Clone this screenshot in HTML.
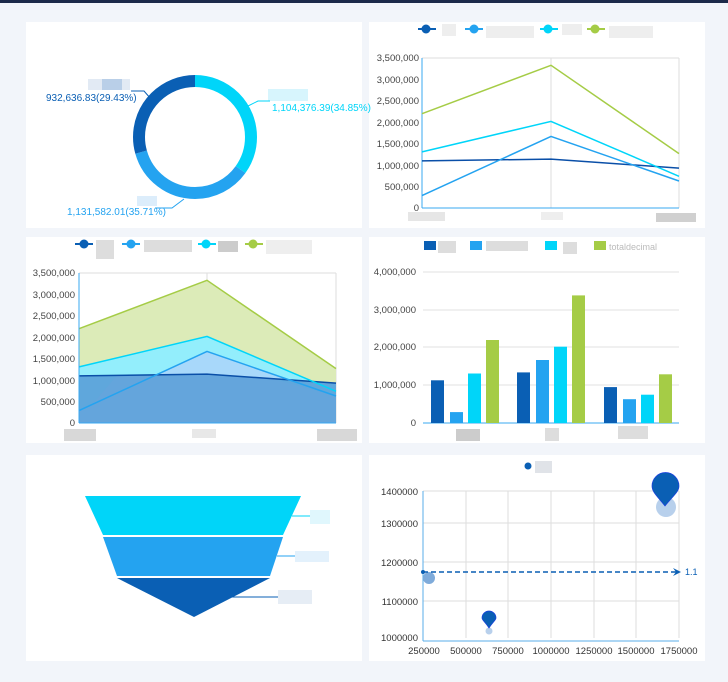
<!DOCTYPE html><html><head><style>body{margin:0;background:#f2f5fa;width:728px;height:682px;overflow:hidden;font-family:"Liberation Sans",sans-serif}svg{display:block}</style></head><body>
<svg width="728" height="682" font-family="Liberation Sans, sans-serif">
<rect x="0" y="0" width="728" height="3" fill="#1c2a4a"/>
<g fill="#fff"><rect x="26" y="22" width="336" height="206"/><rect x="369" y="22" width="336" height="206"/><rect x="26" y="237" width="336" height="206"/><rect x="369" y="237" width="336" height="206"/><rect x="26" y="455" width="336" height="206"/><rect x="369" y="455" width="336" height="206"/></g>
<!-- donut -->
<g transform="rotate(-90 195 137)" fill="none" stroke-width="12">
<circle cx="195" cy="137" r="56" stroke="#00d5f9" stroke-dasharray="122.6 400"/>
<circle cx="195" cy="137" r="56" stroke="#24a3f0" stroke-dasharray="0 122.6 125.7 400"/>
<circle cx="195" cy="137" r="56" stroke="#0a5fb4" stroke-dasharray="0 248.3 103.6 400"/>
</g>
<g font-size="10">
<rect x="88" y="79" width="14" height="11" fill="#e2eaf4"/><rect x="102" y="79" width="20" height="11" fill="#b9cfe8"/><rect x="122" y="79" width="8" height="11" fill="#e2eaf4"/>
<polyline points="131,91 144,91 151,99" fill="none" stroke="#0a5fb4"/><text x="46" y="101" fill="#0a5fb4">932,636.83(29.43%)</text>
<rect x="268" y="89" width="40" height="12" fill="#d7f5fd"/><polyline points="248,106 258,101 270,101" fill="none" stroke="#00d5f9"/><text x="272" y="111" fill="#00d5f9">1,104,376.39(34.85%)</text>
<rect x="137" y="196" width="20" height="10" fill="#dcedfb"/><polyline points="184,199 172,208 155,208" fill="none" stroke="#24a3f0"/><text x="67" y="215" fill="#24a3f0">1,131,582.01(35.71%)</text>
</g>
<!-- line chart -->
<g font-size="9.5" fill="#444" text-anchor="end">
<g stroke="#ddd"><line x1="551" y1="58" x2="551" y2="208"/><line x1="679" y1="58" x2="679" y2="208"/><line x1="422" y1="58" x2="679" y2="58"/></g>
<line x1="422" y1="58" x2="422" y2="208" stroke="#3aa8f2"/><line x1="422" y1="208" x2="679" y2="208" stroke="#3aa8f2"/>
<text x="419" y="61">3,500,000</text><text x="419" y="83">3,000,000</text><text x="419" y="104">2,500,000</text><text x="419" y="126">2,000,000</text><text x="419" y="147">1,500,000</text><text x="419" y="169">1,000,000</text><text x="419" y="190">500,000</text><text x="419" y="211">0</text>
<g fill="none" stroke-width="1.5"><polyline points="422,160.9 551,159.1 679,168.1" stroke="#0a4fa8"/><polyline points="422,195.6 551,136.4 679,181" stroke="#24a3f0"/><polyline points="422,151.9 551,121.4 679,176.3" stroke="#00d5f9"/><polyline points="422,113.7 551,65.3 679,153.6" stroke="#a5cc46"/></g>
<rect x="408" y="212" width="37" height="9" fill="#e6e6e6"/><rect x="541" y="212" width="22" height="8" fill="#eeeeee"/><rect x="656" y="213" width="40" height="9" fill="#d0d0d0"/>
<g><line x1="418" y1="29" x2="436" y2="29" stroke="#0a5fb4" stroke-width="2"/><circle cx="426" cy="29" r="4.5" fill="#0a5fb4"/><rect x="442" y="24" width="14" height="12" fill="#eee"/>
<line x1="465" y1="29" x2="483" y2="29" stroke="#24a3f0" stroke-width="2"/><circle cx="474" cy="29" r="4.5" fill="#24a3f0"/><rect x="486" y="26" width="48" height="12" fill="#eee"/>
<line x1="540" y1="29" x2="558" y2="29" stroke="#00d5f9" stroke-width="2"/><circle cx="548" cy="29" r="4.5" fill="#00d5f9"/><rect x="562" y="24" width="20" height="11" fill="#eee"/>
<line x1="587" y1="29" x2="605" y2="29" stroke="#a5cc46" stroke-width="2"/><circle cx="595" cy="29" r="4.5" fill="#a5cc46"/><rect x="609" y="26" width="44" height="12" fill="#eee"/></g>
</g>
<!-- area chart -->
<g font-size="9.5" fill="#444" text-anchor="end">
<g stroke="#ddd"><line x1="207" y1="273" x2="207" y2="423"/><line x1="336" y1="273" x2="336" y2="423"/><line x1="79" y1="273" x2="336" y2="273"/></g>
<polygon points="79,328.7 207,280.3 336,368.6 336,423 79,423" fill="#dcebb8"/>
<polygon points="79,366.9 207,336.4 336,391.3 336,423 79,423" fill="#93eefc"/>
<polygon points="79,410.6 207,351.4 336,396 336,423 79,423" fill="#a8d8fa"/>
<polygon points="79,375.9 207,374.1 336,383.1 336,423 79,423" fill="#5fa7dc"/>
<polygon points="79,410.6 91,406 117,375.5 207,374.1 270,378 336,396 336,423 79,423" fill="#64a5dc"/>
<g fill="none" stroke-width="1.5"><polyline points="79,375.9 207,374.1 336,383.1" stroke="#0a4fa8"/><polyline points="79,410.6 207,351.4 336,396" stroke="#24a3f0"/><polyline points="79,366.9 207,336.4 336,391.3" stroke="#00d5f9"/><polyline points="79,328.7 207,280.3 336,368.6" stroke="#a5cc46"/></g>
<line x1="79" y1="273" x2="79" y2="423" stroke="#3aa8f2"/><line x1="79" y1="423" x2="336" y2="423" stroke="#3aa8f2"/>
<text x="75" y="276">3,500,000</text><text x="75" y="298">3,000,000</text><text x="75" y="319">2,500,000</text><text x="75" y="341">2,000,000</text><text x="75" y="362">1,500,000</text><text x="75" y="384">1,000,000</text><text x="75" y="405">500,000</text><text x="75" y="426">0</text>
<rect x="64" y="429" width="32" height="12" fill="#d8d8d8"/><rect x="192" y="429" width="24" height="9" fill="#e8e8e8"/><rect x="317" y="429" width="40" height="12" fill="#d8d8d8"/>
<line x1="75" y1="244" x2="93" y2="244" stroke="#0a5fb4" stroke-width="2"/><circle cx="84" cy="244" r="4.5" fill="#0a5fb4"/><rect x="96" y="240" width="18" height="19" fill="#ddd"/>
<line x1="122" y1="244" x2="140" y2="244" stroke="#24a3f0" stroke-width="2"/><circle cx="131" cy="244" r="4.5" fill="#24a3f0"/><rect x="144" y="240" width="48" height="12" fill="#ddd"/>
<line x1="198" y1="244" x2="216" y2="244" stroke="#00d5f9" stroke-width="2"/><circle cx="206" cy="244" r="4.5" fill="#00d5f9"/><rect x="218" y="241" width="20" height="11" fill="#ccc"/>
<line x1="245" y1="244" x2="263" y2="244" stroke="#a5cc46" stroke-width="2"/><circle cx="253" cy="244" r="4.5" fill="#a5cc46"/><rect x="266" y="240" width="46" height="14" fill="#eee"/>
</g>
<!-- bar chart -->
<g font-size="9.5" fill="#444" text-anchor="end">
<g stroke="#e2e2e2"><line x1="423" y1="272" x2="679" y2="272"/><line x1="423" y1="310" x2="679" y2="310"/><line x1="423" y1="347" x2="679" y2="347"/><line x1="423" y1="385" x2="679" y2="385"/></g>
<line x1="423" y1="423" x2="679" y2="423" stroke="#3aa8f2"/>
<text x="416" y="275">4,000,000</text><text x="416" y="313">3,000,000</text><text x="416" y="350">2,000,000</text><text x="416" y="388">1,000,000</text><text x="416" y="426">0</text>
<g fill="#0a5fb4"><rect x="431" y="380.3" width="13" height="42.7"/><rect x="517" y="372.4" width="13" height="50.6"/><rect x="604" y="387.1" width="13" height="35.9"/></g>
<g fill="#24a3f0"><rect x="450" y="412.1" width="13" height="10.9"/><rect x="536" y="360" width="13" height="63"/><rect x="623" y="399.2" width="13" height="23.8"/></g>
<g fill="#00d5f9"><rect x="468" y="373.5" width="13" height="49.5"/><rect x="554" y="346.7" width="13" height="76.3"/><rect x="641" y="394.7" width="13" height="28.3"/></g>
<g fill="#a5cc46"><rect x="486" y="340" width="13" height="83"/><rect x="572" y="295.4" width="13" height="127.6"/><rect x="659" y="374.3" width="13" height="48.7"/></g>
<rect x="456" y="429" width="24" height="12" fill="#ccc"/><rect x="545" y="428" width="14" height="13" fill="#ddd"/><rect x="618" y="426" width="30" height="13" fill="#ddd"/>
<rect x="424" y="241" width="12" height="9" fill="#0a5fb4"/><rect x="438" y="241" width="18" height="12" fill="#ddd"/>
<rect x="470" y="241" width="12" height="9" fill="#24a3f0"/><rect x="486" y="241" width="42" height="10" fill="#ddd"/>
<rect x="545" y="241" width="12" height="9" fill="#00d5f9"/><rect x="563" y="242" width="14" height="12" fill="#ddd"/>
<rect x="594" y="241" width="12" height="9" fill="#a5cc46"/><text x="609" y="250" text-anchor="start" fill="#bbb" font-size="9">totaldecimal</text>
</g>
<!-- funnel -->
<polygon points="85,496 301,496 283,535 103,535" fill="#00d5f9"/>
<polygon points="103,537 283,537 270,576 117,576" fill="#24a3f0"/>
<polygon points="117,578 270,578 194,617" fill="#0a5fb4"/>
<g stroke-width="1"><line x1="292" y1="516" x2="310" y2="516" stroke="#00d5f9"/><line x1="277" y1="556" x2="295" y2="556" stroke="#24a3f0"/><line x1="232" y1="597" x2="278" y2="597" stroke="#0a5fb4"/></g>
<rect x="310" y="510" width="20" height="14" fill="#e0f7fd"/><rect x="295" y="551" width="34" height="11" fill="#e3f1fc"/><rect x="278" y="590" width="34" height="14" fill="#e6edf5"/>
<!-- scatter -->
<g font-size="9.5" fill="#333">
<g stroke="#ddd"><line x1="423" y1="491" x2="679" y2="491"/><line x1="423" y1="523" x2="679" y2="523"/><line x1="423" y1="562" x2="679" y2="562"/><line x1="423" y1="601" x2="679" y2="601"/>
<line x1="466" y1="491" x2="466" y2="638"/><line x1="508" y1="491" x2="508" y2="638"/><line x1="551" y1="491" x2="551" y2="638"/><line x1="594" y1="491" x2="594" y2="638"/><line x1="636" y1="491" x2="636" y2="638"/><line x1="679" y1="491" x2="679" y2="638"/></g>
<line x1="423" y1="491" x2="423" y2="641" stroke="#5aaee8"/><line x1="423" y1="641" x2="679" y2="641" stroke="#5aaee8"/>
<g text-anchor="end"><text x="418" y="495">1400000</text><text x="418" y="527">1300000</text><text x="418" y="566">1200000</text><text x="418" y="605">1100000</text><text x="418" y="641">1000000</text></g>
<g text-anchor="middle"><text x="424" y="654">250000</text><text x="466" y="654">500000</text><text x="508" y="654">750000</text><text x="551" y="654">1000000</text><text x="594" y="654">1250000</text><text x="636" y="654">1500000</text><text x="679" y="654">1750000</text></g>
<circle cx="429" cy="578" r="6" fill="#7fabda"/><circle cx="489" cy="631" r="3.5" fill="#b8d0ec"/><circle cx="666" cy="507" r="10" fill="#b8d0ec"/>
<line x1="423" y1="572" x2="676" y2="572" stroke="#0a5fb4" stroke-width="1.5" stroke-dasharray="5 3"/><circle cx="423" cy="572" r="2" fill="#0a5fb4"/><path d="M673,568 L681,572 L673,576 L676,572Z" fill="#0a5fb4"/><text x="685" y="575" fill="#0a5fb4" font-size="9">1.1</text>
<path d="M489,628 C485,622 482,620 482,618 A7,7 0 1 1 496,618 C496,620 493,622 489,628Z" fill="#0a5fb4" stroke="#1a3fe0" stroke-width="0.7"/>
<path d="M665,506 C657,496 652,492 652,486 A13.5,13.5 0 1 1 679,486 C679,492 673,496 665,506Z" fill="#0a5fb4" stroke="#1a3fe0" stroke-width="0.7"/>
<circle cx="528" cy="466" r="3.5" fill="#0a5fb4"/><rect x="535" y="461" width="17" height="12" fill="#e0e3e8"/>
</g>
</svg></body></html>
